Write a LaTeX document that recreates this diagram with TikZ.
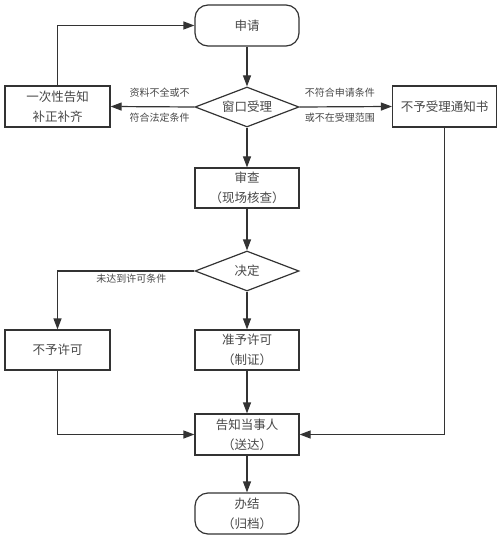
\documentclass[tikz,border=0pt]{standalone}
\usepackage{fontspec}
\setmainfont{Noto Sans CJK SC}
\usetikzlibrary{shapes.geometric,arrows.meta}
\definecolor{ln}{HTML}{333333}
\definecolor{tx}{HTML}{474747}
\tikzset{
  base/.style={draw=ln, line width=1.2pt, text=tx, font=\fontsize{12.5}{20}\selectfont, align=center, inner sep=0pt},
  boxnode/.style={base, rectangle, minimum width=104pt, minimum height=41pt},
  termnode/.style={base, rectangle, rounded corners=13pt, minimum width=104pt, minimum height=41pt},
  decnode/.style={base, diamond, aspect=2.6, minimum width=104pt, minimum height=40pt},
  conn/.style={draw=ln, line width=1.2pt, -{Triangle[length=11pt,width=8pt]}},
  lbl/.style={text=tx, font=\fontsize{10}{11}\selectfont, inner sep=0pt}
}
\begin{document}
\begin{tikzpicture}[x=1pt,y=-1pt]
\useasboundingbox (0,0) rectangle (501,537);
\node[termnode] (apply) at (247,25.5) {申请};
\node[decnode] (window) at (247,107) {窗口受理};
\node[boxnode, minimum width=105pt] (notify) at (57.5,106.5) {一次性告知\\补正补齐};
\node[boxnode] (reject) at (444.5,106.5) {不予受理通知书};
\node[boxnode, minimum height=40pt] (review) at (247,188) {审查\\（现场核查）};
\node[decnode] (decide) at (247,271) {决定};
\node[boxnode, minimum width=105pt, minimum height=40pt] (deny) at (57.5,350) {不予许可};
\node[boxnode, minimum height=40pt] (grant) at (247,350) {准予许可\\（制证）};
\node[boxnode] (inform) at (247,434.5) {告知当事人\\（送达）};
\node[termnode] (done) at (247,513.5) {办结\\（归档）};

\draw[conn] (apply) -- (window);
\draw[conn] (window.west) -- (notify.east)
  node[lbl, pos=0.5, yshift=14pt, xshift=7pt] (l1) {资料不全或不}
  node[lbl, pos=0.5, yshift=-11pt, xshift=7pt] (l2) {符合法定条件};
\draw[conn] (notify.north) |- (apply.west);
\draw[conn] (window.east) -- (reject.west)
  node[lbl, pos=0.5, yshift=14pt, xshift=-6pt] (l3) {不符合申请条件}
  node[lbl, pos=0.5, yshift=-11pt, xshift=-6pt] (l4) {或不在受理范围};
\draw[conn] (window) -- (review);
\draw[conn] (review) -- (decide);
\draw[conn] (decide.west) -| (deny.north)
  node[lbl, pos=0.23, yshift=-8pt] (l5) {未达到许可条件};
\draw[conn] (decide) -- (grant);
\draw[conn] (grant) -- (inform);
\draw[conn] (deny.south) |- (inform.west);
\draw[conn] (reject.south) |- (inform.east);
\draw[conn] (inform) -- (done);
\end{tikzpicture}
\end{document}
